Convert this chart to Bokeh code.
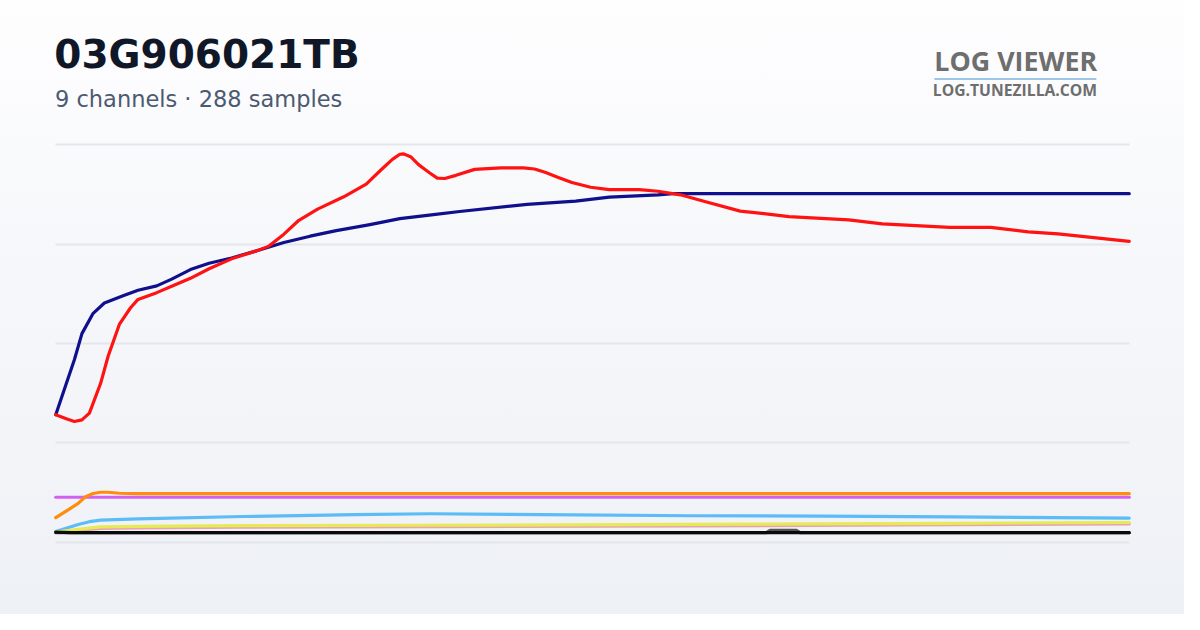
from bokeh.plotting import figure
from bokeh.models import Range1d, Grid, FixedTicker, Label, BoxAnnotation, ColumnDataSource
from bokeh.embed import file_html
from bokeh.resources import INLINE

# ---------------- texts ----------------
TITLE = "03G906021TB"
SUBTITLE = "9 channels \u00b7 288 samples"
BRAND = "LOG VIEWER"
BRAND_URL = "LOG.TUNEZILLA.COM"

N_SAMPLES = 288
grid_ticks = [0, 25, 50, 75, 100]

# ---------------- data (sample index, value) ----------------
navy_idx = [0, 5, 7, 10, 13, 18, 22, 27, 31, 36, 41, 47, 54, 61, 68, 75, 84, 92, 101,
            108, 126, 139, 148, 161, 165, 200, 240, 287]
navy_val = [32.1, 46.0, 52.5, 57.6, 60.2, 62.0, 63.4, 64.5, 66.2, 68.6, 70.2, 71.5, 73.4,
            75.4, 77.0, 78.4, 79.9, 81.4, 82.4, 83.2, 85.0, 85.8, 86.8, 87.4, 87.7, 87.7,
            87.7, 87.7]

red_idx = [0, 3, 5, 7, 9, 12, 14, 17, 20, 22, 27, 31, 36, 41, 47, 54, 57, 61, 65, 70, 77,
           83, 87, 90, 92, 93, 95, 97, 99, 100, 102, 104, 107, 112, 119, 125, 128, 131, 134,
           138, 143, 148, 156, 161, 167, 174, 183, 191, 196, 212, 221, 239, 250, 260, 268,
           287]
red_val = [32.1, 31.0, 30.4, 30.8, 32.5, 40.0, 46.8, 54.8, 59.0, 61.1, 62.8, 64.4, 66.4,
           68.8, 71.3, 73.4, 74.5, 77.5, 81.0, 83.8, 86.9, 90.1, 93.7, 96.3, 97.6, 97.7,
           96.9, 95.0, 93.6, 92.9, 91.6, 91.5, 92.3, 93.8, 94.2, 94.2, 93.9, 93.0, 91.9,
           90.5, 89.3, 88.7, 88.7, 88.3, 87.4, 85.6, 83.3, 82.5, 81.9, 81.1, 80.1, 79.2,
           79.2, 78.1, 77.6, 75.7]

orange_idx = [0, 3, 6, 8, 10, 12, 14, 17, 22, 100, 200, 287]
orange_val = [6.2, 8.0, 9.8, 11.5, 12.3, 12.6, 12.6, 12.35, 12.25, 12.25, 12.25, 12.25]

purple_idx = [0, 60, 120, 180, 240, 287]
purple_val = [11.35, 11.35, 11.35, 11.35, 11.35, 11.35]

sky_idx = [0, 3, 6, 9, 12, 22, 28, 50, 80, 100, 130, 170, 205, 240, 287]
sky_val = [2.7, 3.6, 4.5, 5.2, 5.6, 5.9, 6.05, 6.5, 7.0, 7.2, 7.0, 6.7, 6.6, 6.4, 6.1]

pink_idx = [0, 6, 12, 22, 50, 100, 170, 240, 287]
pink_val = [2.5, 3.0, 3.5, 3.65, 3.85, 3.95, 4.15, 4.45, 4.65]

yellow_idx = [0, 6, 12, 22, 50, 100, 170, 240, 287]
yellow_val = [2.6, 3.3, 3.9, 4.0, 4.2, 4.3, 4.5, 4.8, 5.0]

gray_idx = [0, 100, 190, 191, 198, 199, 287]
gray_val = [2.45, 2.45, 2.45, 3.05, 3.05, 2.45, 2.45]

black_idx = [0, 4, 100, 200, 287]
black_val = [2.6, 2.45, 2.45, 2.45, 2.45]

series = [
    (navy_idx, navy_val, "#10108c"),
    (purple_idx, purple_val, "#d35ff0"),
    (orange_idx, orange_val, "#ff8c0a"),
    (sky_idx, sky_val, "#5cbcf6"),
    (pink_idx, pink_val, "#e8a2b2"),
    (yellow_idx, yellow_val, "#e5ea55"),
    (gray_idx, gray_val, "#555555"),
    (black_idx, black_val, "#0a0a0a"),
    (red_idx, red_val, "#ff1212"),
]

# ---------------- figure (frame spans whole canvas) ----------------
p = figure(
    width=1184, height=614,
    x_range=Range1d(-14.77, 301.77),
    y_range=Range1d(-18.14, 136.27),
    x_axis_location=None, y_axis_location=None,
    min_border=0, output_backend="svg", toolbar_location=None,
)
p.grid.visible = False
p.border_fill_color = None
p.background_fill_color = None
p.outline_line_color = None
p.styles = {"background": "linear-gradient(180deg, #fefeff 0%, #f6f7fa 45%, #eef1f6 100%)"}

grid = Grid(dimension=1, ticker=FixedTicker(ticks=grid_ticks),
            cross_bounds=(0, N_SAMPLES - 1),
            grid_line_color="#e3e6eb", grid_line_width=2)
p.add_layout(grid)

for idx, val, col in series:
    src = ColumnDataSource(dict(x=idx, y=val))
    p.line("x", "y", source=src, line_color=col, line_width=3.2,
           line_cap="round", line_join="round")

# ---------------- header texts ----------------
p.add_layout(Label(x=-0.4, y=122.7, text=TITLE, text_font="DejaVu Sans",
                   text_font_style="bold", text_font_size="39px",
                   text_color="#101828", text_baseline="alphabetic"))
p.add_layout(Label(x=-0.2, y=111.6, text=SUBTITLE, text_font="DejaVu Sans",
                   text_font_size="22.5px", text_color="#4b5a70",
                   text_baseline="alphabetic"))
p.add_layout(Label(x=278.4, y=121.3, text=BRAND, text_font="Open Sans",
                   text_font_style="bold", text_font_size="26.8px",
                   text_color="#6e6e6e", text_align="right",
                   text_baseline="alphabetic"))
p.add_layout(BoxAnnotation(left=234.9, right=278.2, bottom=116.3, top=116.75,
                           fill_color="#9ec6e6", fill_alpha=1.0, line_color=None))
p.add_layout(Label(x=278.4, y=113.8, text=BRAND_URL, text_font="Open Sans",
                   text_font_style="bold", text_font_size="15.7px",
                   text_color="#6e6e6e", text_align="right",
                   text_baseline="alphabetic"))

open("out.html", "w").write(file_html(p, INLINE))
